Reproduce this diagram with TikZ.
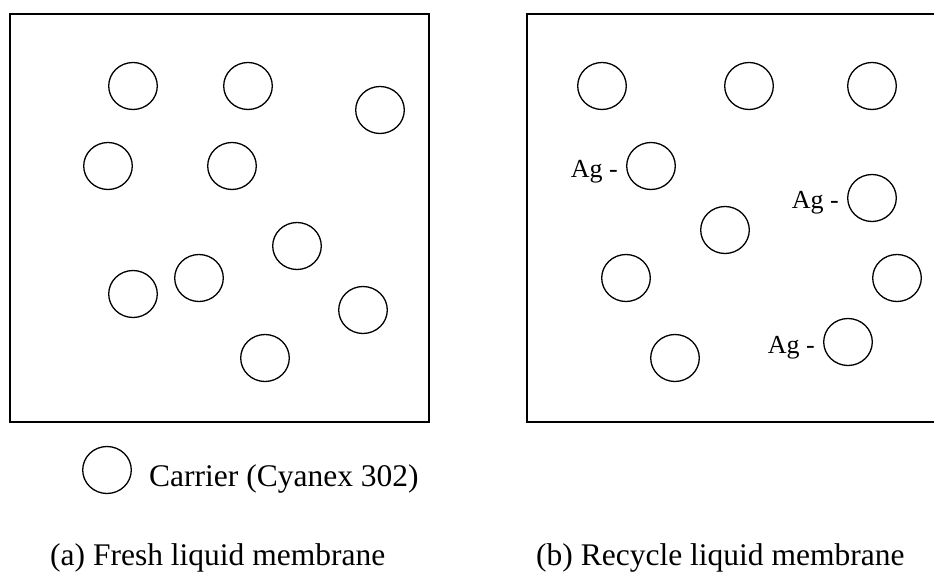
\documentclass[tikz,border=0pt]{standalone}
\usepackage{fontspec}
\setmainfont{Liberation Serif}
\usetikzlibrary{shapes.geometric,calc}
\tikzset{
  membox/.style={draw, line width=1.5pt},
  carrier/.style={draw, ellipse, line width=1.3pt, minimum width=48.6pt, minimum height=47pt, inner sep=0pt},
  aglabel/.style={anchor=base east, inner sep=0pt, font=\fontsize{26}{30}\selectfont},
  captext/.style={anchor=base west, inner sep=0pt, font=\fontsize{31.5}{36}\selectfont}
}
\begin{document}
\begin{tikzpicture}[x=1pt, y=-1pt]
\useasboundingbox (0,0) rectangle (934,572);
\clip (0,0) rectangle (934,572);
% boxes
\draw[membox] (10,14) rectangle (429,422);
\draw[membox] (527,14) rectangle (945,422);
% left carriers
\node[carrier] (a1) at (133,86) {};
\node[carrier] (a2) at (248,86) {};
\node[carrier] (a3) at (380,110) {};
\node[carrier] (a4) at (108,166) {};
\node[carrier] (a5) at (232,166) {};
\node[carrier] (a6) at (297,246) {};
\node[carrier] (a7) at (199,278) {};
\node[carrier] (a8) at (133,294) {};
\node[carrier] (a9) at (363,310) {};
\node[carrier] (a10) at (265,358) {};
% right carriers
\node[carrier] (b1) at (602,86) {};
\node[carrier] (b2) at (749,86) {};
\node[carrier] (b3) at (872,86) {};
\node[carrier] (b4) at (651,166) {};
\node[carrier] (b5) at (872,198) {};
\node[carrier] (b6) at (725,230) {};
\node[carrier] (b7) at (626,278) {};
\node[carrier] (b8) at (897,278) {};
\node[carrier] (b9) at (675,358) {};
\node[carrier] (b10) at (848,342) {};
% Ag labels
\node[aglabel] (l1) at ($(b4.west)+(-8,12)$) {Ag -};
\node[aglabel] (l2) at ($(b5.west)+(-8,11)$) {Ag -};
\node[aglabel] (l3) at ($(b10.west)+(-8,11)$) {Ag -};
% legend
\node[carrier] (leg) at (107,470) {};
\node[captext] (legt) at (149,486) {Carrier (Cyanex 302)};
% captions
\node[captext] (capa) at (50,565) {(a) Fresh liquid membrane};
\node[captext] (capb) at (536,565) {(b) Recycle liquid membrane};
\end{tikzpicture}
\end{document}
